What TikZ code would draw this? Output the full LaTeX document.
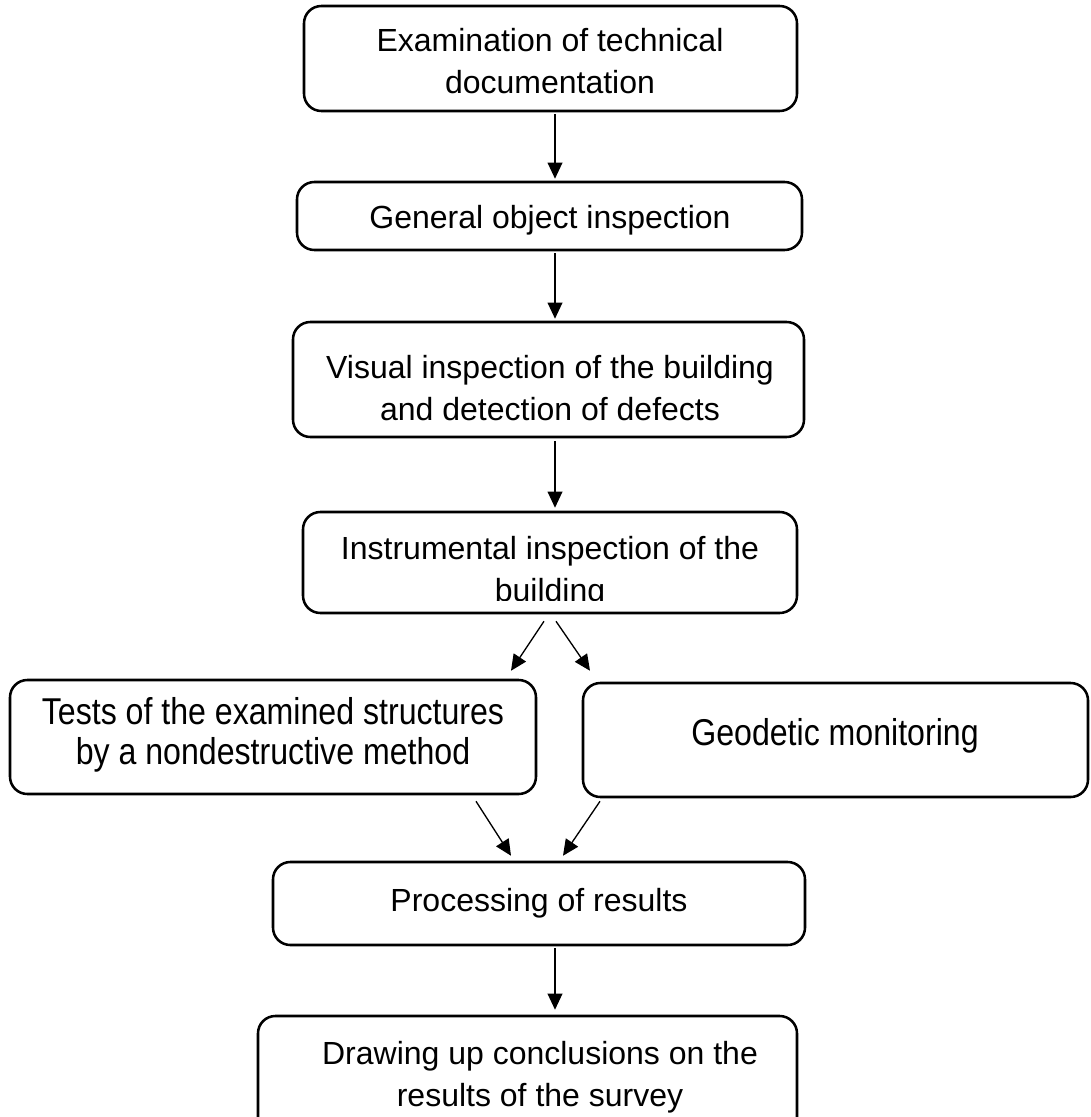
\documentclass[tikz,border=0pt]{standalone}
\usepackage{fontspec}
\setmainfont{Liberation Sans}
\newfontfamily\tallfont[FakeStretch=0.86]{Liberation Sans}
\usetikzlibrary{arrows.meta,calc}
\begin{document}
\begin{tikzpicture}[x=0.75pt,y=-0.75pt,
  box/.style={draw=black,line width=1.9pt,rounded corners=13pt,inner sep=0pt,fill=white},
  lbl/.style={align=center,font=\fontsize{24}{31.5}\selectfont,inner sep=0pt},
  tlbl/.style={align=center,font=\tallfont\fontsize{28}{30}\selectfont,inner sep=0pt},
  arr/.style={line width=1pt,-{Triangle[length=12pt,width=11pt]}}]
\useasboundingbox (0,0) rectangle (1090,1117);
\fill[white] (0,0) rectangle (1090,1117);
% boxes
\node[box,minimum width=369.75pt,minimum height=78.75pt] (B1) at (550.5,58.5) {};
\node[box,minimum width=378.75pt,minimum height=51pt] (B2) at (549.5,216) {};
\node[box,minimum width=383.25pt,minimum height=86.25pt] (B3) at (548.5,379.5) {};
\node[box,minimum width=370.5pt,minimum height=75.75pt] (B4) at (550,562.5) {};
\node[box,minimum width=394.5pt,minimum height=85.5pt] (B5) at (273,737) {};
\node[box,minimum width=378.75pt,minimum height=85.5pt] (B6) at (835.5,740) {};
\node[box,minimum width=399pt,minimum height=62.25pt] (B7) at (539,903.5) {};
\node[box,minimum width=404.25pt,minimum height=89.25pt] (B8) at (527.5,1075.5) {};
% texts
\node[lbl] (T1) at (550,61) {Examination of technical\\documentation};
\node[lbl] (T2) at (550,220) {General object inspection};
\node[lbl] (T3) at (550,388) {Visual inspection of the building\\and detection of defects};
\begin{scope}
\clip (303,512) rectangle (797,600);
\node[lbl] (T4) at (550,572) {Instrumental inspection of the\\building};
\end{scope}
\node[tlbl] (T5) at (273,735) {Tests of the examined structures\\by a nondestructive method};
\node[tlbl] (T6) at (835,736) {Geodetic monitoring};
\node[lbl] (T7) at (539,903) {Processing of results};
\node[lbl] (T8) at (540,1077) {Drawing up conclusions on the\\results of the survey};
% connector ends
\coordinate (c1a) at ($(B1.south)+(4.5,2)$);
\coordinate (c1b) at ($(B2.north)+(5.5,-2)$);
\coordinate (c2a) at ($(B2.south)+(5.5,2)$);
\coordinate (c2b) at ($(B3.north)+(6.5,-2)$);
\coordinate (c3a) at ($(B3.south)+(6.5,3)$);
\coordinate (c3b) at ($(B4.north)+(5,-3)$);
\coordinate (d1a) at ($(B4.south)+(-6,7)$);
\coordinate (d1b) at ($(B5.north)+(238,-8)$);
\coordinate (d2a) at ($(B4.south)+(6,7)$);
\coordinate (d2b) at ($(B6.north)+(-245.5,-11)$);
\coordinate (d3a) at ($(B5.south)+(203,6)$);
\coordinate (d3b) at ($(B7.north)+(-28,-5)$);
\coordinate (d4a) at ($(B6.south)+(-235.5,3)$);
\coordinate (d4b) at ($(B7.north)+(24,-5)$);
\coordinate (c4a) at ($(B7.south)+(16,2)$);
\coordinate (c4b) at ($(B8.north)+(27.5,-5)$);
\draw[arr] (c1a) -- (c1b);
\draw[arr] (c2a) -- (c2b);
\draw[arr] (c3a) -- (c3b);
\draw[arr] (d1a) -- (d1b);
\draw[arr] (d2a) -- (d2b);
\draw[arr] (d3a) -- (d3b);
\draw[arr] (d4a) -- (d4b);
\draw[arr] (c4a) -- (c4b);
\end{tikzpicture}
\end{document}
